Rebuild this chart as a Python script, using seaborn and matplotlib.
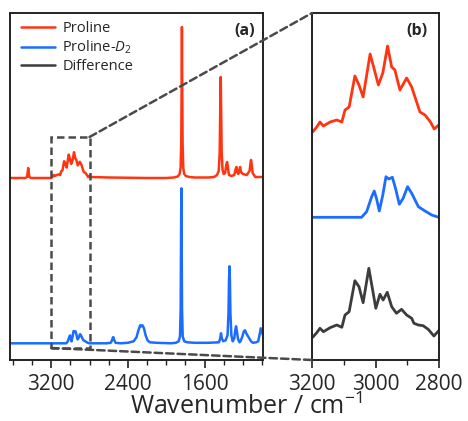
import numpy as np
import pandas as pd
import seaborn as sns
import matplotlib.pyplot as plt
from matplotlib.lines import Line2D
from matplotlib.patches import Rectangle, ConnectionPatch
from matplotlib.ticker import MultipleLocator

RED = '#ff3512'
BLUE = '#1a6dff'
GREY = '#3c3c3c'
DASH = '#4a4a4a'

# C-H stretch region (3200-2800 cm-1), used for the zoom panel (b)
zoom_wn = [3198, 3185, 3175, 3164, 3143, 3122, 3106, 3096, 3083, 3065, 3052, 3039,
           3017, 3005, 2991, 2977, 2962, 2949, 2939, 2923, 2902, 2886, 2860, 2844,
           2827, 2815, 2801]
zoom_proline = [0.00, 0.05, 0.10, 0.06, 0.10, 0.12, 0.10, 0.22, 0.25, 0.56, 0.47, 0.35,
                0.78, 0.64, 0.47, 0.59, 0.86, 0.65, 0.62, 0.42, 0.54, 0.45, 0.20, 0.17,
                0.10, 0.03, 0.07]

zoom_wn_d2 = [3198, 3044, 3028, 3012, 3004, 2997, 2988, 2977, 2967, 2958, 2947, 2937,
              2925, 2913, 2899, 2886, 2865, 2844, 2823, 2801]
zoom_proline_d2 = [0.0, 0.0, 0.056, 0.206, 0.263, 0.19, 0.063, 0.223, 0.406, 0.383, 0.40,
                   0.29, 0.13, 0.19, 0.306, 0.24, 0.106, 0.063, 0.023, 0.0]

diff_wn = [3198, 3185, 3175, 3164, 3143, 3122, 3106, 3096, 3083, 3065, 3052, 3039,
           3021, 3009, 2999, 2986, 2976, 2963, 2949, 2934, 2918, 2902, 2886, 2879,
           2865, 2850, 2834, 2816, 2801]
diff_vals = [0.0, 0.046, 0.09, 0.056, 0.096, 0.123, 0.10, 0.223, 0.256, 0.566, 0.506,
             0.346, 0.69, 0.473, 0.29, 0.43, 0.373, 0.45, 0.306, 0.24, 0.28, 0.223,
             0.19, 0.14, 0.123, 0.116, 0.08, 0.013, 0.066]

# full spectra outside the zoom window (panel a)
hi_wn = [3630, 3470, 3452, 3445, 3440, 3435, 3428, 3410, 3210]
hi_proline = [0.0, 0.0, 0.01, 0.06, 0.10, 0.06, 0.01, 0.0, 0.0]

lo_wn = [2790, 2600, 2200, 2000, 1920, 1880, 1860, 1850, 1843, 1838, 1836, 1834, 1829,
         1822, 1812, 1795, 1760, 1700, 1560, 1500, 1470, 1452, 1442, 1436, 1431, 1427,
         1421, 1412, 1400, 1385, 1372, 1364, 1356, 1345, 1320, 1290, 1275, 1267, 1259,
         1248, 1237, 1229, 1220, 1200, 1160, 1130, 1120, 1115, 1110, 1098, 1070, 990]
lo_proline = [0.01, 0.005, 0.0, 0.0, 0.005, 0.015, 0.04, 0.10, 0.35, 1.10, 1.51, 1.10,
              0.35, 0.10, 0.04, 0.02, 0.01, 0.005, 0.005, 0.01, 0.03, 0.07, 0.25, 0.70,
              1.01, 0.70, 0.25, 0.08, 0.04, 0.05, 0.14, 0.16, 0.10, 0.03, 0.02, 0.03,
              0.09, 0.11, 0.06, 0.04, 0.08, 0.11, 0.06, 0.04, 0.03, 0.07, 0.15, 0.18,
              0.15, 0.05, 0.01, 0.01]

hi_wn_d2 = [3630]
hi_proline_d2 = [0.0]
lo_wn_d2 = [2790, 2620, 2580, 2565, 2556, 2550, 2542, 2528, 2480, 2400, 2340, 2310, 2290,
            2272, 2260, 2248, 2232, 2215, 2195, 2170, 2100, 1950, 1900, 1870, 1856, 1849,
            1845, 1842, 1839, 1835, 1828, 1812, 1780, 1700, 1560, 1450, 1436, 1428, 1420,
            1405, 1380, 1360, 1350, 1345, 1340, 1335, 1330, 1320, 1306, 1290, 1278, 1271,
            1264, 1250, 1235, 1225, 1205, 1190, 1177, 1165, 1140, 1115, 1095, 1060, 1040,
            1025, 1013, 1005, 990]
lo_proline_d2 = [0.0, 0.0, 0.005, 0.03, 0.06, 0.06, 0.03, 0.005, 0.0, 0.005, 0.02, 0.06,
                 0.13, 0.18, 0.17, 0.18, 0.15, 0.08, 0.03, 0.01, 0.005, 0.0, 0.005, 0.02,
                 0.07, 0.35, 1.10, 1.55, 1.10, 0.35, 0.07, 0.02, 0.01, 0.005, 0.005, 0.01,
                 0.05, 0.10, 0.05, 0.02, 0.03, 0.08, 0.30, 0.62, 0.77, 0.62, 0.30, 0.08,
                 0.02, 0.05, 0.14, 0.17, 0.13, 0.04, 0.01, 0.02, 0.07, 0.12, 0.13, 0.10,
                 0.06, 0.02, 0.005, 0.01, 0.02, 0.09, 0.15, 0.13, 0.08]

ZOOM_SCALE = 0.3          # zoom window is magnified in panel (b)
offset_a = {'Proline': 1.82, 'Proline-D2': 0.167}
offset_b = {'Proline': 2.28, 'Proline-D2': 1.427, 'Difference': 0.227}
zoom_window = (3200, 2800)
box_y = (0.12, 2.23)


def full_spectrum(hi_x, hi_y, zx, zy, lo_x, lo_y, offset):
    x = list(hi_x) + list(zx) + list(lo_x)
    y = list(hi_y) + [v * ZOOM_SCALE for v in zy] + list(lo_y)
    return pd.DataFrame({'wn': x, 'y': np.array(y) + offset})


def style_axis(ax):
    ax.set_xlabel('')
    ax.set_ylabel('')
    ax.tick_params(axis='y', left=False, labelleft=False)
    ax.tick_params(axis='x', which='major', direction='out', length=6, width=1.2,
                   labelsize=15, pad=4, color='#222222')
    ax.tick_params(axis='x', which='minor', direction='out', length=3.5, width=1.0,
                   color='#222222')
    for s in ax.spines.values():
        s.set_linewidth(1.4)
        s.set_color('#222222')


sns.set_style('ticks')
plt.rcParams['font.family'] = ['Open Sans', 'DejaVu Sans']
plt.rcParams['mathtext.fontset'] = 'custom'
plt.rcParams['mathtext.rm'] = 'Open Sans'
plt.rcParams['mathtext.it'] = 'Open Sans:italic'

fig = plt.figure(figsize=(4.68, 4.21), dpi=100)
ax_a = fig.add_axes([10 / 468, 61 / 421, 253 / 468, 347 / 421])
ax_b = fig.add_axes([312 / 468, 61 / 421, 127 / 468, 347 / 421])

# Panel (a): full spectra
df_red = full_spectrum(hi_wn, hi_proline, zoom_wn, zoom_proline, lo_wn, lo_proline,
                       offset_a['Proline'])
df_blue = full_spectrum(hi_wn_d2, hi_proline_d2, zoom_wn_d2, zoom_proline_d2,
                        lo_wn_d2, lo_proline_d2, offset_a['Proline-D2'])
sns.lineplot(data=df_red, x='wn', y='y', ax=ax_a, color=RED, lw=1.8,
             estimator=None, sort=False)
sns.lineplot(data=df_blue, x='wn', y='y', ax=ax_a, color=BLUE, lw=1.8,
             estimator=None, sort=False)
ax_a.set_xlim(3630, 990)
ax_a.set_ylim(0, 3.47)
ax_a.set_xticks([3200, 2400, 1600])
ax_a.xaxis.set_minor_locator(MultipleLocator(200))
style_axis(ax_a)
ax_a.text(0.929, 0.947, '(a)', transform=ax_a.transAxes, ha='center', va='center',
          fontsize=11.5, fontweight='bold')

box = Rectangle((zoom_window[0], box_y[0]), zoom_window[1] - zoom_window[0],
                box_y[1] - box_y[0], fill=False, ec=DASH, lw=1.8,
                ls=(0, (3, 1.6)), zorder=5)
ax_a.add_patch(box)

handles = [Line2D([], [], color=RED, lw=1.8),
           Line2D([], [], color=BLUE, lw=1.8),
           Line2D([], [], color=GREY, lw=1.8)]
ax_a.legend(handles, ['Proline', 'Proline-$D_2$', 'Difference'], loc='upper left',
            bbox_to_anchor=(0.045, 0.977), frameon=False, fontsize=10.5,
            handlelength=2.3, handletextpad=0.5, labelspacing=0.2,
            borderpad=0, borderaxespad=0)

# Panel (b): zoom on the C-H stretch region
df_zr = pd.DataFrame({'wn': zoom_wn, 'y': np.array(zoom_proline) + offset_b['Proline']})
df_zb = pd.DataFrame({'wn': zoom_wn_d2,
                      'y': np.array(zoom_proline_d2) + offset_b['Proline-D2']})
df_zd = pd.DataFrame({'wn': diff_wn, 'y': np.array(diff_vals) + offset_b['Difference']})
for d, c in [(df_zr, RED), (df_zb, BLUE), (df_zd, GREY)]:
    sns.lineplot(data=d, x='wn', y='y', ax=ax_b, color=c, lw=2.0,
                 estimator=None, sort=False)
ax_b.set_xlim(zoom_window)
ax_b.set_ylim(0, 3.47)
ax_b.set_xticks([3200, 3000, 2800])
ax_b.xaxis.set_minor_locator(MultipleLocator(100))
style_axis(ax_b)
ax_b.text(0.83, 0.947, '(b)', transform=ax_b.transAxes, ha='center', va='center',
          fontsize=11.5, fontweight='bold')

# connecting dashed lines
for xy_a, xy_b in [((zoom_window[1], box_y[1]), (0, 1)),
                   ((zoom_window[0], box_y[0]), (0, 0))]:
    con = ConnectionPatch(xyA=xy_a, coordsA=ax_a.transData,
                          xyB=xy_b, coordsB=ax_b.transAxes,
                          color=DASH, lw=1.8, ls=(0, (3, 1.6)), zorder=5)
    fig.add_artist(con)

fig.text(246 / 468, 1 / 421, 'Wavenumber / cm$^{-1}$', ha='center', va='bottom',
         fontsize=18)

plt.savefig('out.png', dpi=100)
